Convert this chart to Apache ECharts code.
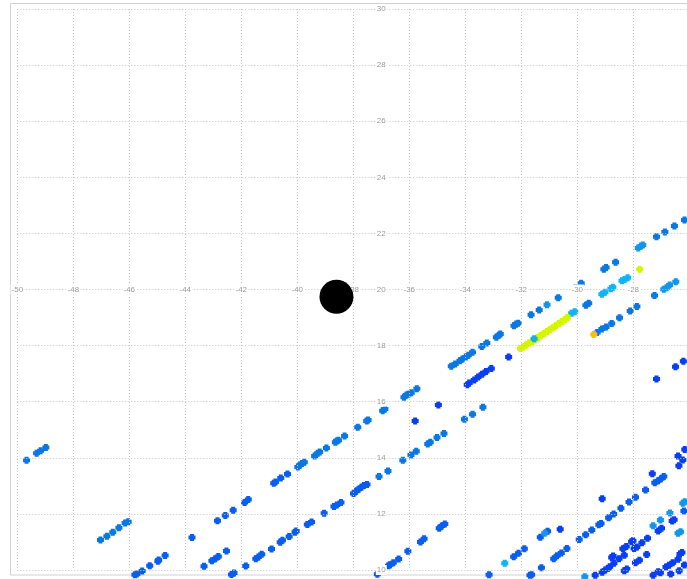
<!DOCTYPE html>
<html>
<head>
<meta charset="utf-8">
<script src="https://cdn.jsdelivr.net/npm/echarts@6/dist/echarts.min.js"></script>
<style>
html,body{margin:0;padding:0;background:#fff;}
#chart{width:687px;height:579px;}
</style>
</head>
<body>
<div id="chart"></div>
<script>
// Axis ranges / ticks (x range is cut by the right edge of the picture)
var xMin = -50, xMax = -26.08, xStep = 2;
var yMin = 10, yMax = 30, yStep = 2;
var xAxisAtLat = 20;     // x-axis labels drawn along lat 20
var yAxisAtLon = -37;    // y-axis labels drawn along lon -37

// Marker position (big black dot)
var marker = [[-38.60, 19.74]];

// Points grouped by colour class: [lon, lat]
var darkBlue = [
  [-35.79,15.31],[-34.96,15.88],[-32.45,17.59],
  [-33.93,16.60],[-33.86,16.67],[-33.68,16.77],[-33.54,16.88],[-33.40,16.98],[-33.26,17.08],[-33.07,17.18],
  [-27.17,16.81],[-26.49,17.25],[-26.21,17.44],
  [-30.61,11.45],[-29.11,12.54],[-27.32,13.43],
  [-26.40,14.06],[-26.37,13.72],[-26.23,13.92],[-26.16,14.30],
  [-28.01,11.04],[-28.06,11.01],[-28.25,10.84],[-28.37,10.76],[-28.32,10.53],[-28.51,10.40],
  [-28.69,10.24],[-28.84,10.12],[-28.91,10.05],[-29.00,10.00],[-29.11,9.92],[-29.36,9.81],
  [-28.72,10.50],[-28.77,10.45],[-27.92,10.26],[-27.78,10.35],[-27.52,10.55],
  [-28.32,9.97],[-28.23,10.04],[-27.29,9.81],[-27.11,9.94],[-27.03,9.90],
  [-26.83,10.11],[-26.72,10.17],[-26.59,10.26],[-26.40,10.38],[-26.33,10.57],[-26.26,10.62],
  [-26.66,9.86],[-26.36,9.97],[-26.17,10.18],
  [-27.49,11.13],[-27.69,10.97],[-27.87,10.82],[-27.97,10.77],
  [-27.11,11.39],[-26.99,11.49],[-26.61,11.75],[-26.54,11.79]
];
var blue = [
  [-45.80,9.83],[-45.73,9.86],[-45.54,9.96],[-45.27,10.15],[-44.98,10.31],[-44.95,10.36],[-44.72,10.52],
  [-43.76,11.16],
  [-43.33,10.13],[-43.05,10.33],[-42.93,10.40],[-42.82,10.48],[-42.53,10.68],
  [-42.35,9.84],[-42.26,9.89],[-41.84,10.14],
  [-42.85,11.76],[-42.57,11.94],[-42.29,12.13],[-41.88,12.41],[-41.75,12.51],
  [-40.84,13.09],[-40.78,13.14],[-40.59,13.28],[-40.35,13.42],
  [-41.48,10.40],[-41.39,10.46],[-41.27,10.56],[-40.92,10.75],[-40.61,10.99],[-40.53,11.06],
  [-40.29,11.19],[-40.08,11.35],[-40.04,11.39],[-39.64,11.62],[-39.49,11.71],[-39.04,12.02],
  [-38.69,12.26],[-38.59,12.32],[-38.44,12.41],[-37.99,12.73],[-37.90,12.81],[-37.81,12.88],
  [-37.71,12.95],[-37.62,13.01],[-37.51,13.05],
  [-37.14,9.85],[-36.74,10.15],[-36.69,10.19],[-36.57,10.26],[-36.38,10.39],[-36.05,10.67],
  [-35.60,11.00],[-35.47,11.11],[-34.93,11.49],[-34.84,11.57],[-34.73,11.64],[-33.15,9.83],
  [-32.27,10.47],[-32.10,10.60],[-31.89,10.76],[-31.69,9.81],[-31.63,9.83],
  [-31.32,11.17],[-31.06,11.38],[-31.28,10.08],
  [-30.84,10.40],[-30.72,10.51],[-30.57,10.61],[-30.37,10.77],
  [-29.93,11.09],[-29.70,11.26],[-29.48,11.43],[-29.23,11.61],[-29.15,11.66],[-28.88,11.86],
  [-28.70,12.00],[-28.44,12.20],[-28.15,12.42],[-27.92,12.59],[-27.56,12.85],[-27.23,13.11],
  [-27.11,13.18],[-27.01,13.25],[-26.91,13.33],[-26.19,12.10]
];
var midBlue = [
  [-49.67,13.91],[-49.31,14.16],[-49.17,14.25],[-48.98,14.37],
  [-47.03,11.07],[-46.80,11.20],[-46.59,11.35],[-46.37,11.51],[-46.15,11.68],[-46.04,11.72],
  [-39.98,13.67],[-39.90,13.74],[-39.83,13.80],[-39.75,13.84],[-39.38,14.06],[-39.27,14.16],
  [-39.20,14.21],[-38.96,14.35],[-38.64,14.55],[-38.59,14.60],[-38.53,14.63],[-38.31,14.78],
  [-37.84,15.09],[-37.52,15.31],[-37.47,15.35],[-36.95,15.68],[-36.87,15.74],
  [-36.19,16.16],[-36.10,16.24],[-36.03,16.27],[-35.93,16.32],[-35.73,16.46],
  [-34.50,17.26],[-34.36,17.34],[-34.19,17.46],[-34.10,17.52],[-33.98,17.59],[-33.89,17.66],
  [-33.74,17.76],[-33.41,17.97],[-33.23,18.09],[-32.89,18.30],[-32.80,18.37],[-32.75,18.41],
  [-32.26,18.71],[-32.18,18.77],[-32.11,18.80],[-31.65,19.10],[-31.36,19.27],[-30.68,19.71],
  [-30.07,20.06],[-29.86,20.22],[-29.05,20.72],[-28.97,20.78],[-28.63,20.97],
  [-27.17,21.88],[-26.87,22.05],[-26.53,22.26],[-26.17,22.48],
  [-36.76,13.53],[-37.08,13.33],[-36.23,13.91],[-35.94,14.10],[-35.75,14.23],[-35.34,14.49],
  [-35.25,14.55],[-35.01,14.72],[-34.76,14.87],[-34.03,15.37],[-33.74,15.55],[-33.37,15.80],
  [-29.69,19.44],[-29.59,19.51],
  [-29.29,18.47],[-29.12,18.59],[-28.97,18.66],[-28.77,18.79],[-28.49,18.99],[-28.11,19.23],
  [-27.87,19.39],[-27.24,19.79]
];
var lightBlue = [
  [-31.08,19.46],[-27.82,21.48],[-27.72,21.55],[-27.66,21.59],
  [-26.91,20.01],[-26.81,20.06],[-26.70,20.16],[-26.48,20.28],
  [-31.16,11.31],[-27.29,11.58],[-27.03,11.78],[-26.69,12.03],[-26.40,11.31],[-26.31,11.36],
  [-26.23,12.38],[-26.16,12.43],[-29.73,9.76]
];
var cyan = [
  [-32.59,10.24],[-30.20,19.15],[-30.09,19.21],
  [-29.12,19.83],[-29.01,19.90],[-28.80,20.03],[-28.73,20.08],
  [-28.40,20.31],[-28.31,20.36],[-28.20,20.42]
];
var yellow = [
  [-32.03,17.90],[-31.94,17.95],[-31.83,18.02],[-31.72,18.09],[-31.62,18.15],[-31.51,18.22],
  [-31.40,18.29],[-31.30,18.36],[-31.19,18.43],[-31.08,18.50],[-30.97,18.57],[-30.87,18.64],
  [-30.76,18.72],[-30.65,18.79],[-30.55,18.86],[-30.44,18.93],[-30.35,19.00],
  [-27.77,20.72]
];
var cyanOver = [[-31.54,18.24]];
var orange = [[-29.41,18.40]];

var sym = 'path://M1.5,0H5.5V1.5H7V5.5H5.5V7H1.5V5.5H0V1.5H1.5Z';
function pts(name, data, color) {
  return {
    type: 'scatter', name: name, data: data, symbol: sym, symbolSize: 7,
    clip: false, silent: true,
    itemStyle: { color: color, opacity: 1 }
  };
}

var labelStyle = {
  color: '#9a9a9a', fontSize: 8, fontFamily: 'Liberation Sans, Arial, sans-serif',
  backgroundColor: '#fff', padding: [0, 1, 2, 1]
};

var gridLeft = 17.3, gridTop = 9, gridH = 561;
var pxPerLon = 28.0;
var gridW = (xMax - xMin) * pxPerLon;
var xOffset = -gridH * (xAxisAtLat - yMin) / (yMax - yMin);
var yOffset = -pxPerLon * (yAxisAtLon - xMin);

var gridStyle = { color: '#c6c6c6', type: [1, 2], width: 1 };

var chart = echarts.init(document.getElementById('chart'), null, { renderer: 'canvas' });
chart.setOption({
  animation: false,
  backgroundColor: '#fff',
  graphic: [{
    type: 'rect', silent: true, z: 0,
    shape: { x: 10.5, y: 3.5, width: 800, height: 571.5 },
    style: { fill: 'none', stroke: '#d2d2d2', lineWidth: 1 }
  }],
  grid: { left: gridLeft, top: gridTop, width: gridW, height: gridH, containLabel: false },
  xAxis: {
    type: 'value', min: xMin, max: xMax, interval: xStep,
    position: 'bottom', offset: xOffset,
    axisLine: { show: false }, axisTick: { show: false },
    splitLine: { show: true, lineStyle: gridStyle },
    axisLabel: Object.assign({ margin: 0, verticalAlign: 'middle', align: 'center', showMaxLabel: false }, labelStyle),
    z: 3
  },
  yAxis: {
    type: 'value', min: yMin, max: yMax, interval: yStep,
    position: 'left', offset: yOffset,
    axisLine: { show: false }, axisTick: { show: false },
    splitLine: { show: true, lineStyle: gridStyle },
    axisLabel: Object.assign({ margin: 0, verticalAlign: 'middle', align: 'center' }, labelStyle),
    z: 3
  },
  series: [
    pts('blue', blue, '#0a5eee'),
    pts('midBlue', midBlue, '#0a78e2'),
    pts('darkBlue', darkBlue, '#0a3ef2'),
    pts('lightBlue', lightBlue, '#1296ec'),
    pts('cyan', cyan, '#10b4f8'),
    pts('yellow', yellow, '#d6f500'),
    pts('cyanOver', cyanOver, '#12b0f0'),
    pts('orange', orange, '#ffc000'),
    {
      type: 'scatter', name: 'marker', data: marker, symbol: 'circle', symbolSize: 34,
      clip: false, silent: true, itemStyle: { color: '#000', opacity: 1 }, z: 5
    }
  ]
});
</script>
</body>
</html>
